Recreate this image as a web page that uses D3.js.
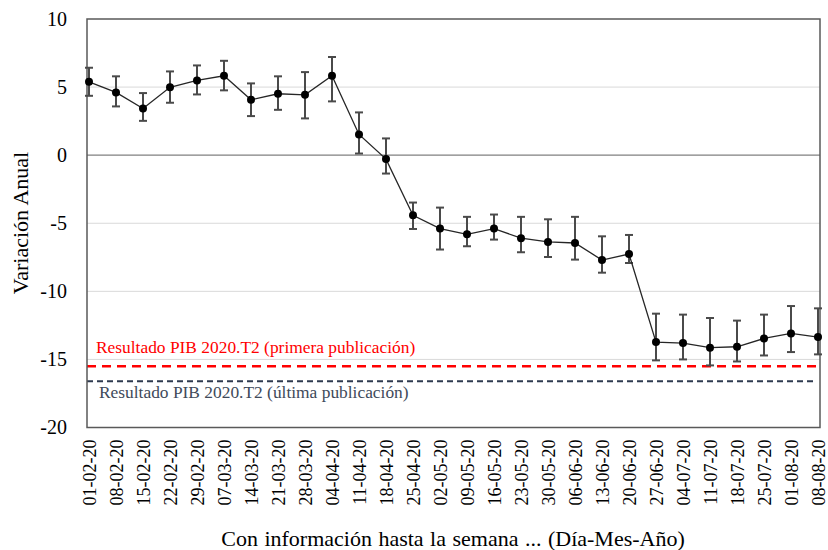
<!DOCTYPE html>
<html><head><meta charset="utf-8">
<script src="https://cdn.jsdelivr.net/npm/d3@7/dist/d3.min.js"></script>
<style>body{margin:0;background:#fff}svg{display:block}</style>
</head><body>
<script>
const weeks = ["01-02-20","08-02-20","15-02-20","22-02-20","29-02-20","07-03-20","14-03-20","21-03-20","28-03-20","04-04-20","11-04-20","18-04-20","25-04-20","02-05-20","09-05-20","16-05-20","23-05-20","30-05-20","06-06-20","13-06-20","20-06-20","27-06-20","04-07-20","11-07-20","18-07-20","25-07-20","01-08-20","08-08-20"];
const estimate = [5.39,4.61,3.43,4.98,5.49,5.83,4.07,4.51,4.43,5.83,1.52,-0.29,-4.41,-5.39,-5.81,-5.39,-6.10,-6.37,-6.45,-7.70,-7.26,-13.73,-13.80,-14.14,-14.07,-13.46,-13.09,-13.36];
const upper = [6.42,5.79,4.56,6.15,6.59,6.93,5.27,5.79,6.10,7.21,3.14,1.23,-3.48,-3.85,-4.53,-4.36,-4.53,-4.71,-4.53,-5.96,-5.86,-11.64,-11.71,-11.96,-12.15,-11.71,-11.08,-11.25];
const lower = [4.36,3.58,2.52,3.85,4.46,4.76,2.87,3.33,2.70,3.95,0.12,-1.35,-5.42,-6.93,-6.69,-6.20,-7.13,-7.48,-7.67,-8.63,-7.92,-15.07,-15.00,-15.44,-15.15,-14.71,-14.46,-14.63];
const yTicks = [10,5,0,-5,-10,-15,-20];
const refFirst = -15.5, refLast = -16.6;
const labelFirst = "Resultado PIB 2020.T2 (primera publicación)";
const labelLast = "Resultado PIB 2020.T2 (última publicación)";
const yTitle = "Variación Anual";
const xTitle = "Con información hasta la semana ... (Día-Mes-Año)";

const W = 828, H = 550;
const L = 87, R = 820, T = 19, B = 427.5;
const font = "Liberation Serif";

const svg = d3.select("body").append("svg").attr("width", W).attr("height", H)
  .style("font-family", font);

const x = d3.scalePoint().domain(weeks).range([89, 818]);
const y = d3.scaleLinear().domain([-20, 10]).range([B, T]);

// gridlines
svg.append("g").selectAll("line").data(yTicks.filter(v => v !== 10 && v !== -20 && v !== 0)).join("line")
  .attr("x1", L).attr("x2", R).attr("y1", d => y(d)).attr("y2", d => y(d))
  .attr("stroke", "#d9d9d9").attr("stroke-width", 1);
svg.append("line").attr("x1", L).attr("x2", R).attr("y1", y(0)).attr("y2", y(0))
  .attr("stroke", "#808080").attr("stroke-width", 1.3);

// reference lines
svg.append("line").attr("x1", L).attr("x2", R).attr("y1", y(refFirst)).attr("y2", y(refFirst))
  .attr("stroke", "#ff0000").attr("stroke-width", 2.5).attr("stroke-dasharray", "9,6");
svg.append("line").attr("x1", L).attr("x2", R - 3).attr("y1", y(refLast)).attr("y2", y(refLast))
  .attr("stroke", "#2e3a4f").attr("stroke-width", 2).attr("stroke-dasharray", "6,4");

svg.append("text").attr("x", 96).attr("y", 353).attr("fill", "#ff0000")
  .style("font-family", font).style("font-size", "17.4px").text(labelFirst);
svg.append("text").attr("x", 99).attr("y", 398).attr("fill", "#404a5a")
  .style("font-family", font).style("font-size", "17.4px").text(labelLast);

// frame
svg.append("rect").attr("x", L).attr("y", T).attr("width", R - L).attr("height", B - T)
  .attr("fill", "none").attr("stroke", "#595959").attr("stroke-width", 1.5);

// error bars
const eb = svg.append("g").attr("stroke", "#4a4a4a").attr("stroke-width", 2);
weeks.forEach((w, i) => {
  const cx = x(w);
  eb.append("line").attr("x1", cx).attr("x2", cx).attr("y1", y(upper[i])).attr("y2", y(lower[i]));
  eb.append("line").attr("x1", cx - 4).attr("x2", cx + 4).attr("y1", y(upper[i])).attr("y2", y(upper[i]));
  eb.append("line").attr("x1", cx - 4).attr("x2", cx + 4).attr("y1", y(lower[i])).attr("y2", y(lower[i]));
});

// line
const line = d3.line().x((d, i) => x(weeks[i])).y(d => y(d));
svg.append("path").datum(estimate).attr("d", line).attr("fill", "none")
  .attr("stroke", "#262626").attr("stroke-width", 1.3);
svg.append("g").selectAll("circle").data(estimate).join("circle")
  .attr("cx", (d, i) => x(weeks[i])).attr("cy", d => y(d)).attr("r", 4).attr("fill", "#000");

// y axis labels
const yAxis = d3.axisLeft(y).tickValues(yTicks).tickSize(0).tickPadding(20).tickFormat(d => String(d));
const ga = svg.append("g").attr("transform", `translate(${L},0)`).call(yAxis);
ga.attr("font-family", null);
ga.select(".domain").remove();
ga.selectAll("text").style("font-family", font).style("font-size", "20px").attr("fill", "#000");

// x axis labels
const xAxis = d3.axisBottom(x).tickSize(0).tickPadding(0);
const gx = svg.append("g").attr("transform", `translate(0,${B})`).call(xAxis);
gx.attr("font-family", null);
gx.select(".domain").remove();
gx.selectAll("text").style("font-family", font).style("font-size", "18px").attr("fill", "#000")
  .attr("text-anchor", "end").attr("transform", "rotate(-90)")
  .attr("x", -12).attr("y", 0).attr("dy", "0.35em");

// titles
svg.append("text").attr("transform", "translate(28,223) rotate(-90)").attr("text-anchor", "middle")
  .style("font-family", font).style("font-size", "22px").text(yTitle);
svg.append("text").attr("x", 453).attr("y", 546).attr("text-anchor", "middle")
  .style("font-family", font).style("font-size", "22px").style("word-spacing", "1px").text(xTitle);
</script>
</body></html>
